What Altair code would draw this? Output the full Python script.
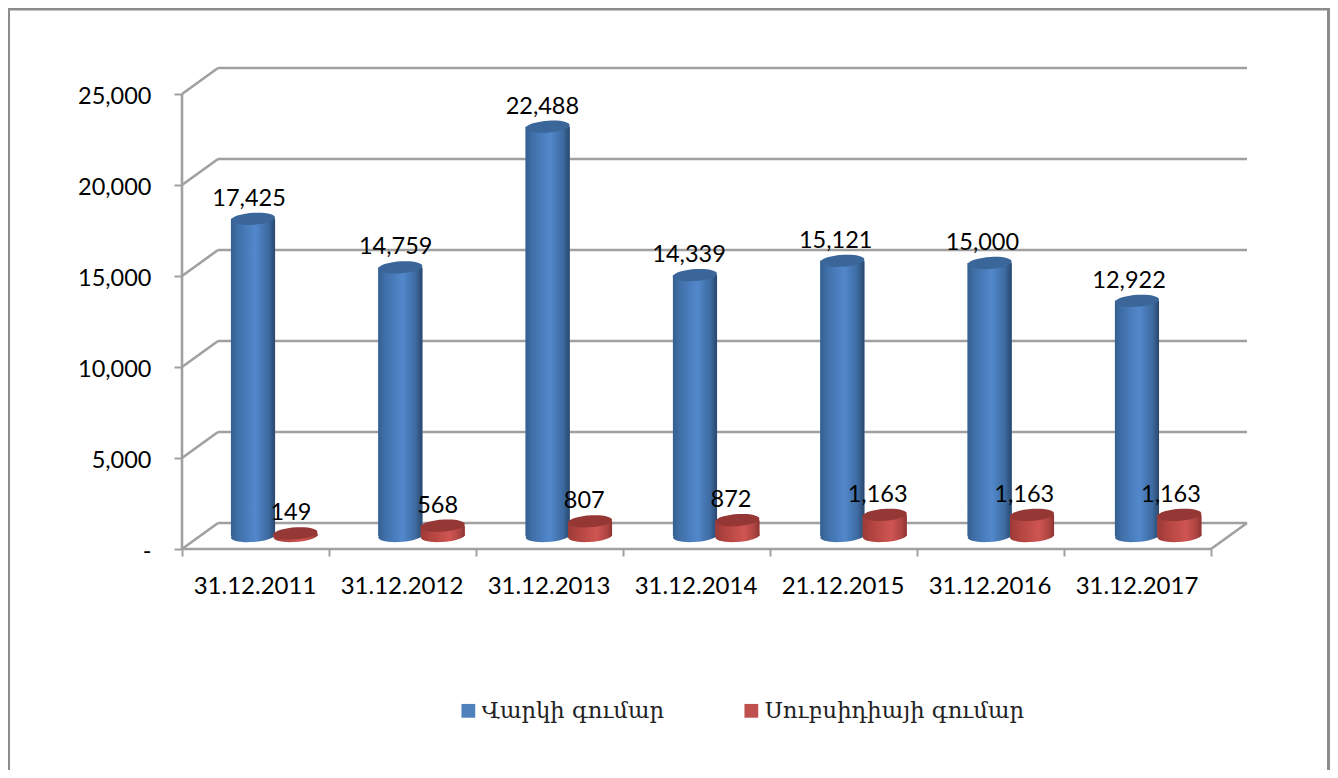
import altair as alt
import pandas as pd

categories = ["31.12.2011", "31.12.2012", "31.12.2013", "31.12.2014",
              "21.12.2015", "31.12.2016", "31.12.2017"]
loan = [17425, 14759, 22488, 14339, 15121, 15000, 12922]
subsidy = [149, 568, 807, 872, 1163, 1163, 1163]
series_names = ["Վարկի գումար", "Սուբսիդիայի գումար"]
y_ticks = [0, 5000, 10000, 15000, 20000, 25000]

PX_X = 147.0          # pixels per category
PX_Y = 455 / 25000    # pixels per value unit
PLOT_W, PLOT_H = 1066, 482
DX = 36 / PX_X        # depth of the floor, in category units
DY = 26 / PX_Y        # depth of the floor, in value units
BASE = DY / 2         # cylinders stand in the middle of the floor
BAR_STEP = 147.33 / PX_X
LABEL_STEP = 146.67 / PX_X

FONT = "Lato"
GRID = "#a0a0a0"
FRAME = "#8c8c8c"

xs = alt.Scale(domain=[0, PLOT_W / PX_X], nice=False, zero=False)
ys = alt.Scale(domain=[0, PLOT_H / PX_Y], nice=False)

rows = []
for i, c in enumerate(categories):
    rows.append(dict(cat=c, series=series_names[0], value=loan[i],
                     x0=i * BAR_STEP + 0.333, x1=i * BAR_STEP + 0.633,
                     lx=i * LABEL_STEP + 0.456))
    rows.append(dict(cat=c, series=series_names[1], value=subsidy[i],
                     x0=i * BAR_STEP + 0.622, x1=i * BAR_STEP + 0.921,
                     lx=i * LABEL_STEP + 0.741))
df = pd.DataFrame(rows)
df["xc"] = (df.x0 + df.x1) / 2
df["base"] = BASE
df["top"] = df.value + BASE
df["label"] = df.value.map(lambda v: f"{v:,}")

# wall and floor lines
lines = []
for v in y_ticks:
    lines.append(dict(a=DX, b=7 + DX, c=v + DY, d=v + DY))   # back wall
    lines.append(dict(a=0, b=DX, c=v, d=v + DY))             # side wall
lines.append(dict(a=0, b=0, c=0, d=25000))                   # vertical axis
lines.append(dict(a=0, b=7, c=0, d=0))                       # front floor edge
lines.append(dict(a=7, b=7 + DX, c=0, d=DY))                 # right floor edge
lines_df = pd.DataFrame(lines)

grid = alt.Chart(lines_df).mark_rule(color=GRID, strokeWidth=2.6).encode(
    x=alt.X("a:Q", scale=xs, axis=alt.Axis(
        values=list(range(8)), grid=False, domain=False, title=None,
        tickColor=GRID, tickWidth=2, tickSize=7,
        labelExpr="['31.12.2011','31.12.2012','31.12.2013','31.12.2014','21.12.2015','31.12.2016','31.12.2017',''][datum.value]",
        labelOffset=PX_X / 2 - 1, labelFont=FONT, labelFontSize=24, labelColor="black",
        labelPadding=18, labelFlush=False, labelBound=False, labelOverlap=False, labelAlign="center")),
    x2="b:Q",
    y=alt.Y("c:Q", scale=ys, axis=alt.Axis(
        values=y_ticks, grid=False, domain=False, title=None,
        tickColor=GRID, tickWidth=2, tickSize=8, labelOffset=2,
        labelExpr="datum.value === 0 ? '-\u00a0\u00a0\u00a0' : format(datum.value, ',')",
        labelFont=FONT, labelFontSize=23.5, labelColor="black", labelPadding=23,
        labelFlush=False, labelBound=False, labelOverlap=False)),
    y2="d:Q",
)

def grad(stops):
    return alt.LinearGradient(
        gradient="linear", x1=0, x2=1, y1=0, y2=0,
        stops=[alt.GradientStop(offset=o, color=c) for o, c in stops])

blue_grad = grad([(0, "#34608f"), (0.15, "#3f6fa8"), (0.55, "#5288cc"), (0.85, "#3d6aa0"), (1, "#29476c")])
red_grad = grad([(0, "#9c3a38"), (0.2, "#b0433f"), (0.65, "#cf5552"), (0.9, "#ab4340"), (1, "#8b3331")])

ELLIPSE = "M-1,0.05 A1,0.27 -4 1 1 1,-0.05 A1,0.27 -4 1 1 -1,0.05 Z"
SIZE = 44 ** 2

def subset(name):
    return alt.Chart(df[df.series == name])

layers = [grid]
for name, g, top_c in zip(series_names, [blue_grad, red_grad], ["#3a6699", "#953735"]):
    d = subset(name)
    base_bar = d.mark_bar(stroke=None).encode(
        x=alt.X("x0:Q", scale=xs), x2="x1:Q",
        y=alt.Y("base:Q", scale=ys), y2="top:Q",
        color=alt.Color("series:N",
            scale=alt.Scale(domain=series_names, range=["#4f81bd", "#c0504d"]),
            legend=alt.Legend(
                title=None, orient="none", legendX=275, legendY=632,
                direction="horizontal", columns=2, columnPadding=75,
                symbolType="square", symbolSize=190, symbolStrokeWidth=0,
                labelFont="DejaVu Serif", labelFontSize=22.7, labelColor="#222222",
                labelOffset=2, labelLimit=400)),
    )
    bottom = d.mark_point(shape=ELLIPSE, size=SIZE, filled=True, fill=g, opacity=1, stroke=None).encode(
        x=alt.X("xc:Q", scale=xs), y=alt.Y("base:Q", scale=ys))
    body = d.mark_bar(fill=g, stroke=None).encode(
        x=alt.X("x0:Q", scale=xs), x2="x1:Q",
        y=alt.Y("base:Q", scale=ys), y2="top:Q")
    top = d.mark_point(shape=ELLIPSE, size=SIZE, filled=True, fill=top_c, opacity=1, stroke=None).encode(
        x=alt.X("xc:Q", scale=xs), y=alt.Y("top:Q", scale=ys))
    layers += [bottom, base_bar, body, top]

labels = alt.Chart(df).mark_text(
    font=FONT, fontSize=23.5, color="black", dy=-20, align="center", baseline="middle"
).encode(
    x=alt.X("lx:Q", scale=xs), y=alt.Y("top:Q", scale=ys), text="label:N")

frame = alt.Chart(pd.DataFrame({"k": [0]})).mark_rect(
    fill=None, stroke=FRAME, strokeWidth=3
).encode(
    x=alt.value(-173.5), x2=alt.value(1146.5), y=alt.value(-58), y2=alt.value(800))

chart = alt.layer(frame, *layers, labels).resolve_scale(x="shared", y="shared").properties(
    width=PLOT_W, height=PLOT_H, autosize="none", background="white",
    padding={"left": 174, "top": 59, "right": 82, "bottom": 221},
).configure_view(stroke=None)

chart.save("out.html", embed_options={"renderer": "svg", "actions": False})
